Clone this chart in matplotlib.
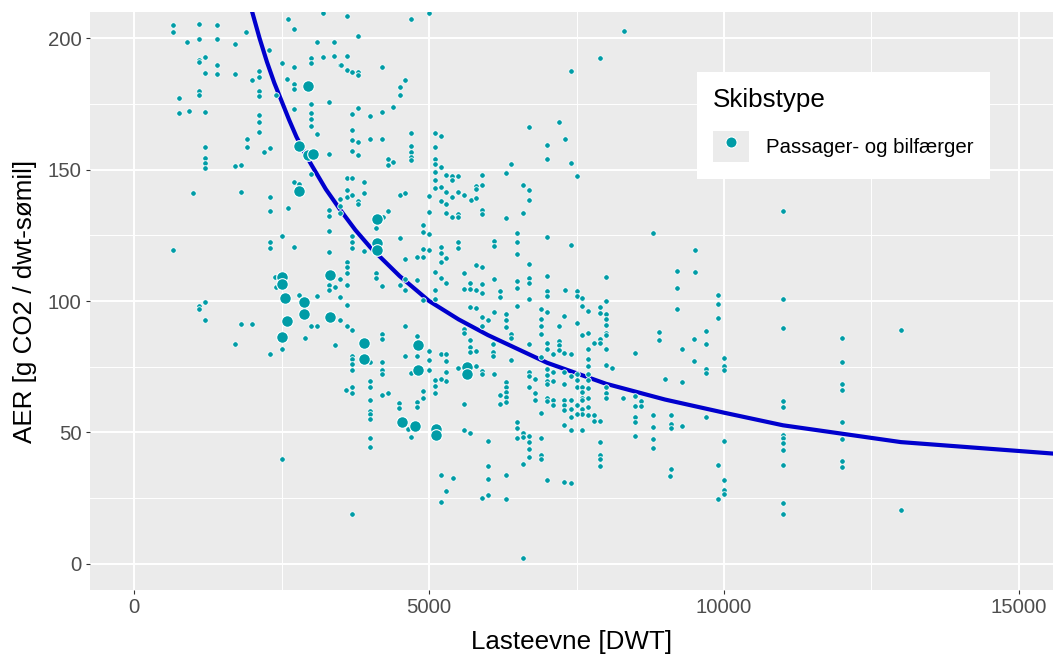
import matplotlib
matplotlib.use('Agg')
import matplotlib.pyplot as plt
from matplotlib.patches import Patch
from matplotlib.lines import Line2D
from matplotlib.legend_handler import HandlerTuple
from matplotlib.ticker import MultipleLocator

plt.rcParams['font.family'] = ['Liberation Sans', 'DejaVu Sans']

# ── Data (DWT, AER) ──────────────────────────────────────────
small_ships = [
    (649, 205.2), (649, 202.4), (1102, 205.6), (1102, 199.9), (1401, 205.2), (1401, 199.9),
    (898, 198.4), (1700, 198.0), (1898, 202.3), (2599, 207.5), (2706, 203.4), (3198, 209.5),
    (3096, 198.6), (3395, 198.6), (1102, 191.9), (1102, 190.8), (1198, 192.8), (1401, 190.0),
    (1198, 186.8), (1401, 186.5), (1700, 186.4), (2293, 195.4), (2107, 187.4), (2107, 185.1),
    (2000, 184.2), (2503, 190.5), (2706, 188.9), (2593, 184.6), (2706, 182.5), (2706, 180.8),
    (3005, 192.5), (3005, 190.6), (3198, 192.8), (3395, 193.4), (3491, 190.0), (763, 177.4),
    (757, 171.6), (920, 172.3), (1198, 171.8), (1102, 179.8), (1102, 178.5), (2107, 179.8),
    (2107, 178.0), (2401, 178.5), (2107, 170.9), (2107, 168.2), (2107, 164.5), (2706, 173.0),
    (3005, 174.9), (3005, 171.5), (3005, 169.2), (3005, 166.7), (3305, 175.7), (3102, 163.6),
    (1904, 161.7), (1904, 158.5), (1198, 158.8), (1198, 154.3), (2203, 156.9), (2300, 158.3),
    (3305, 156.1),
    (3605, 208.3), (4695, 207.5), (4995, 209.8), (3797, 200.8), (3605, 193.4), (3509, 190.0),
    (3605, 188.0), (3700, 187.0), (3797, 187.3), (3797, 185.9), (4203, 189.2), (4599, 184.1),
    (4503, 181.4), (4503, 178.4), (4395, 173.9), (3797, 173.4), (3700, 171.3), (4000, 170.4),
    (4203, 172.1), (3700, 165.0), (3700, 161.2), (3797, 160.4), (3700, 157.1), (3797, 155.6),
    (4000, 161.5), (4203, 161.7), (4695, 163.9), (4695, 159.0), (4695, 156.6), (4695, 154.8),
    (4695, 153.6), (5102, 164.1), (5198, 162.9), (5102, 158.5), (5102, 153.9), (4300, 154.0),
    (4395, 153.0),
    (8305, 202.7), (7893, 192.6), (7401, 187.7), (6700, 166.3), (7203, 168.2), (7300, 161.7),
    (7000, 159.2), (7000, 154.2), (7401, 152.4), (7503, 147.6), (6599, 144.3), (6700, 142.3),
    (6700, 138.5),
    (1198, 152.6), (1198, 150.8), (1700, 151.2), (1802, 151.9), (1000, 141.1), (1802, 141.6),
    (2300, 139.4), (2300, 134.4), (2706, 145.4), (2802, 144.7), (2599, 135.3), (3000, 148.4),
    (3305, 134.6), (3305, 132.5), (3305, 126.5), (3305, 118.7), (3491, 133.6), (2503, 124.7),
    (2300, 122.4), (2300, 120.0), (2706, 120.4), (649, 119.4), (2385, 109.0), (2401, 105.5),
    (2802, 102.3), (3102, 102.0), (3305, 106.0), (3305, 104.1), (3401, 105.3), (3491, 108.3),
    (3491, 101.6), (1198, 99.5), (1102, 98.2), (1102, 96.9),
    (4300, 151.9), (5102, 152.3), (5198, 151.0), (6395, 152.0), (3605, 146.7), (3700, 146.7),
    (3903, 145.4), (3605, 142.3), (3605, 139.7), (3700, 140.2), (3491, 138.8), (3491, 136.0),
    (3797, 138.1), (3797, 136.9), (3903, 141.1), (4503, 140.4), (4599, 141.1), (5102, 149.1),
    (5102, 146.2), (5102, 143.1), (5198, 143.3), (5293, 148.1), (5395, 147.7), (5395, 146.2),
    (5492, 147.5), (5293, 141.4), (5395, 139.4), (5496, 141.4), (5597, 140.4), (5797, 143.7),
    (5797, 142.6), (5904, 144.2), (5904, 148.0), (5707, 138.3), (5797, 139.3), (6300, 148.6),
    (5198, 137.9), (5293, 137.1), (5293, 133.5), (5395, 131.8), (5492, 133.2), (5492, 132.1),
    (5904, 134.7), (5904, 133.2), (6300, 131.7), (4995, 139.9), (4995, 134.0), (4300, 134.1),
    (4215, 131.9), (4097, 127.8), (4898, 128.9), (4898, 126.3), (4995, 125.6), (3700, 124.6),
    (3700, 122.6), (3700, 120.3), (3903, 119.2), (4503, 123.9), (4898, 119.7), (4995, 119.3),
    (4800, 116.9), (4898, 116.7), (4599, 116.0), (5198, 120.4), (5198, 118.1), (5293, 116.5),
    (5198, 114.8), (5496, 122.4), (5496, 120.1), (6095, 122.9), (6095, 121.0), (6486, 125.8),
    (6486, 122.4), (6486, 117.8), (3605, 115.0), (3605, 112.9), (3605, 110.6), (3605, 106.0),
    (3605, 98.4), (4097, 110.5), (4097, 108.8), (4203, 105.7), (4503, 106.0), (4599, 108.3),
    (4599, 104.1), (4800, 107.9), (4898, 100.4), (5102, 111.1), (5198, 108.7), (5293, 106.9),
    (5102, 104.2), (5102, 100.8), (5597, 110.7), (5695, 106.9), (5597, 104.7), (5700, 104.5),
    (5797, 113.6), (5904, 113.1), (5797, 104.2), (5904, 106.3), (5904, 103.0), (6095, 108.5),
    (6203, 103.9), (6203, 101.5), (6486, 107.8), (6486, 105.0), (6486, 98.2), (5700, 97.7),
    (5797, 97.2),
    (6599, 133.5), (6995, 124.4), (7401, 121.3), (8791, 125.7), (9503, 119.3), (6700, 114.0),
    (6995, 109.4), (6700, 108.7), (6700, 106.8), (8000, 109.0), (9204, 111.5), (9503, 111.2),
    (9204, 105.0), (6995, 103.8), (6995, 101.8), (7300, 104.2), (7503, 103.7), (7503, 102.0),
    (7598, 101.2), (6700, 100.8), (8000, 99.9), (7593, 98.1), (7893, 97.6), (6903, 97.1),
    (9204, 97.1),
    (1198, 92.8), (1802, 91.3), (2000, 91.3), (1700, 83.7), (3000, 90.3), (3102, 90.3),
    (2898, 85.8), (2503, 81.8), (2300, 79.9), (3401, 83.1), (3491, 92.8), (2503, 39.8),
    (3605, 90.3), (3700, 88.8), (4599, 90.6), (4198, 87.3), (4198, 85.4), (3700, 79.0),
    (3700, 77.8), (3700, 75.9), (3700, 73.6), (4000, 76.6), (4198, 76.8), (4198, 73.7),
    (4198, 72.4), (4800, 86.5), (4800, 79.1), (4599, 79.0), (4995, 81.0), (4995, 77.7),
    (4995, 73.9), (4700, 72.6), (5198, 80.0), (5293, 80.0), (5293, 77.2), (5293, 73.0),
    (5293, 69.4), (5198, 70.5), (5102, 69.9), (5102, 67.8), (5102, 64.8), (5496, 74.5),
    (5797, 75.3), (5904, 73.3), (5904, 72.1), (6095, 72.4), (5593, 89.2), (5593, 87.8),
    (5700, 85.1), (5700, 82.6), (5700, 80.5), (5797, 81.0), (6090, 83.5), (6090, 80.5),
    (6090, 79.0), (5904, 93.8), (6005, 92.8), (5904, 90.5), (6095, 95.8), (6305, 95.0),
    (6305, 92.8), (6305, 90.0), (6395, 87.3), (6395, 85.8), (6395, 77.5), (3593, 66.3),
    (3700, 67.1), (3700, 65.0), (4000, 69.7), (4000, 67.3), (4000, 62.5), (4198, 64.1),
    (4300, 65.0), (4000, 58.1), (4000, 56.9), (4000, 55.2), (4496, 61.2), (4496, 59.4),
    (4800, 61.6), (4800, 59.7), (4898, 65.9), (4898, 62.9), (5593, 60.8), (6300, 69.2),
    (6300, 67.3), (6300, 65.4), (6300, 63.5), (6300, 61.6), (6203, 64.1), (6203, 60.8),
    (4695, 48.2), (4649, 51.4), (4005, 48.0), (4005, 44.4), (5593, 50.8), (5695, 49.7),
    (6005, 46.8), (6005, 37.1), (6497, 53.9), (6497, 51.6), (6497, 47.8),
    (6995, 95.9), (7293, 94.3), (7700, 96.3), (7898, 95.3), (8000, 95.0), (8000, 93.0),
    (8000, 90.8), (6898, 93.0), (6898, 90.6), (6898, 87.5), (7203, 90.6), (7503, 91.5),
    (7593, 86.9), (7700, 87.7), (8000, 87.9), (8000, 87.0), (7797, 84.0), (7898, 85.5),
    (7898, 84.2), (6700, 83.6), (6995, 84.0), (6995, 81.8), (7203, 84.7), (7203, 83.2),
    (7293, 80.3), (7401, 79.7), (7107, 79.7), (6898, 78.8), (7203, 81.4), (7700, 81.6),
    (8000, 81.6), (8491, 80.4), (8903, 88.1), (8903, 85.1), (9293, 81.8), (9497, 85.5),
    (9497, 77.2), (6700, 72.8), (6700, 71.5), (6700, 67.1), (6802, 70.2), (6995, 74.2),
    (6995, 71.8), (6995, 69.6), (6995, 68.3), (7107, 72.9), (7107, 69.7), (7293, 72.8),
    (7293, 68.6), (7401, 71.5), (7503, 72.4), (7503, 69.8), (7503, 67.3), (7593, 67.3),
    (7593, 65.4), (7593, 63.2), (7700, 78.1), (7700, 75.2), (7700, 72.4), (7700, 69.8),
    (7700, 66.7), (7700, 63.2), (7700, 59.7), (8000, 75.6), (8102, 74.5), (8000, 67.3),
    (8000, 64.8), (8000, 62.9), (6802, 64.8), (6802, 62.5), (7107, 62.2), (7107, 60.6),
    (6995, 63.2), (6995, 61.8), (7293, 62.2), (7293, 60.3), (7293, 58.4), (7401, 62.2),
    (7401, 59.0), (7401, 55.8), (7503, 60.3), (7593, 62.2), (7593, 59.0), (7593, 56.9),
    (7503, 56.9), (7293, 52.9), (7700, 56.5), (7797, 56.5), (7797, 54.2), (7898, 54.2),
    (6898, 57.4), (7401, 50.8), (7593, 51.0), (8293, 62.9), (8491, 63.9), (8491, 60.0),
    (8593, 61.8), (8593, 59.9), (8491, 55.8), (8491, 53.9), (8797, 56.5), (8797, 52.2),
    (9097, 56.5), (9097, 53.3), (9097, 51.8), (9293, 52.4), (8491, 48.6), (8797, 47.6),
    (8797, 44.0), (9000, 70.2), (9293, 69.0), (9097, 35.9), (6599, 49.7), (6599, 48.2),
    (6700, 48.7), (6700, 46.4), (6700, 43.8), (6700, 40.6), (6898, 47.7), (6898, 41.3),
    (6898, 39.8), (6599, 37.8), (7898, 46.4), (7898, 41.3), (7898, 39.7), (7898, 37.3),
    (3700, 19.0), (5203, 33.9), (5401, 32.6), (6005, 32.3), (6300, 33.9), (5293, 27.7),
    (5203, 23.6), (5904, 25.1), (6005, 26.2), (6300, 24.8), (7000, 31.9), (7293, 31.2),
    (7401, 30.7), (9090, 33.3), (6599, 2.2),
    (11000, 134.4), (9903, 102.3), (9903, 98.9), (9903, 93.6), (11000, 100.8), (11000, 89.7),
    (9695, 88.6), (9695, 83.5), (9695, 74.1), (9695, 72.6), (10005, 78.2), (10005, 75.2),
    (10005, 73.6), (11994, 86.0), (11994, 76.9), (11994, 68.6), (11994, 66.2), (11994, 53.8),
    (11994, 47.6), (11994, 39.2), (11994, 36.9), (13000, 88.8), (13000, 20.5), (9695, 56.0),
    (11000, 61.9), (11000, 59.8), (10005, 46.8), (11000, 49.1), (11000, 47.8), (11000, 46.1),
    (11000, 43.4), (11000, 37.7), (9903, 37.7), (10005, 31.9), (10005, 28.0), (10005, 26.6),
    (9903, 24.8), (11000, 23.2), (11000, 19.0),
]

large_ships = [
    (2944, 181.8), (2802, 159.0), (2944, 155.5), (3029, 156.0), (2802, 141.7), (2503, 109.0),
    (2503, 106.5), (2548, 101.3), (2870, 99.7), (3317, 110.0), (4113, 131.3), (4113, 122.0),
    (4113, 119.5), (2582, 92.5), (2870, 95.0), (3317, 94.0), (2508, 86.4), (3903, 83.9),
    (3903, 78.1), (4819, 83.2), (4819, 73.6), (5649, 74.7), (5649, 72.4), (4548, 53.9),
    (4758, 52.6), (5114, 51.4), (5114, 49.1),
]

# fitted trend line
curve_dwt = [1900, 2000, 2125, 2250, 2375, 2500, 2625, 2750, 2875, 3000, 3250, 3500,
             3750, 4000, 4500, 5000, 5500, 6000, 7000, 8000, 9000, 10000, 11000, 12000,
             13000, 15600]
curve_aer = [218, 210, 200, 191, 183, 176, 169, 162.5, 157, 152, 142.5, 134.5,
             127, 120.5, 109.5, 100, 93, 87, 76.5, 68.5, 62.5, 57.5, 52.7, 49.5,
             46.3, 41.9]

TEAL = '#009CA6'
BLUE = '#0000CD'
BG   = '#EBEBEB'

fig = plt.figure(figsize=(10.53, 6.55), dpi=100)
ax = fig.add_axes([0.0855, 0.0992, 0.9145, 0.8825])
ax.set_facecolor(BG)

ax.plot(curve_dwt, curve_aer, color=BLUE, lw=3, zorder=2,
        solid_capstyle='butt', solid_joinstyle='round')

sx, sy = zip(*small_ships)
lx, ly = zip(*large_ships)
ax.scatter(sx, sy, s=16, c=TEAL, edgecolors='white', linewidths=0.6, zorder=3)
ax.scatter(lx, ly, s=70, c=TEAL, edgecolors='white', linewidths=0.8, zorder=4)

ax.set_xlim(-750, 15580)
ax.set_ylim(-10, 210)
ax.xaxis.set_major_locator(MultipleLocator(5000))
ax.xaxis.set_minor_locator(MultipleLocator(2500))
ax.yaxis.set_major_locator(MultipleLocator(50))
ax.yaxis.set_minor_locator(MultipleLocator(25))
ax.grid(which='major', color='white', lw=1.4)
ax.grid(which='minor', color='white', lw=0.7)
ax.set_axisbelow(True)
for s in ax.spines.values():
    s.set_visible(False)
ax.tick_params(which='major', length=3, width=0.8, color='#333333',
               labelcolor='#4D4D4D', labelsize=14.7, pad=3)
ax.tick_params(which='minor', length=0)

ax.set_xlabel('Lasteevne [DWT]', fontsize=18.7, labelpad=9)
ax.set_ylabel('AER [g CO2 / dwt-sømil]', fontsize=18.7, labelpad=8)

key = (Patch(facecolor=BG, edgecolor='none'),
       Line2D([], [], ls='', marker='o', ms=8, mfc=TEAL, mec='white', mew=0.8))
leg = ax.legend([key], ['Passager- og bilfærger'], title='Skibstype',
                handler_map={tuple: HandlerTuple(ndivide=1)},
                loc='upper left', bbox_to_anchor=(0.630, 0.896), borderaxespad=0,
                frameon=True, facecolor='white', edgecolor='none', framealpha=1,
                fancybox=False, fontsize=14.7, title_fontsize=18.7,
                handlelength=1.75, handleheight=2.0, handletextpad=0.85,
                labelspacing=0.9, borderpad=0.8, alignment='left')

fig.savefig('out.png', dpi=100)
